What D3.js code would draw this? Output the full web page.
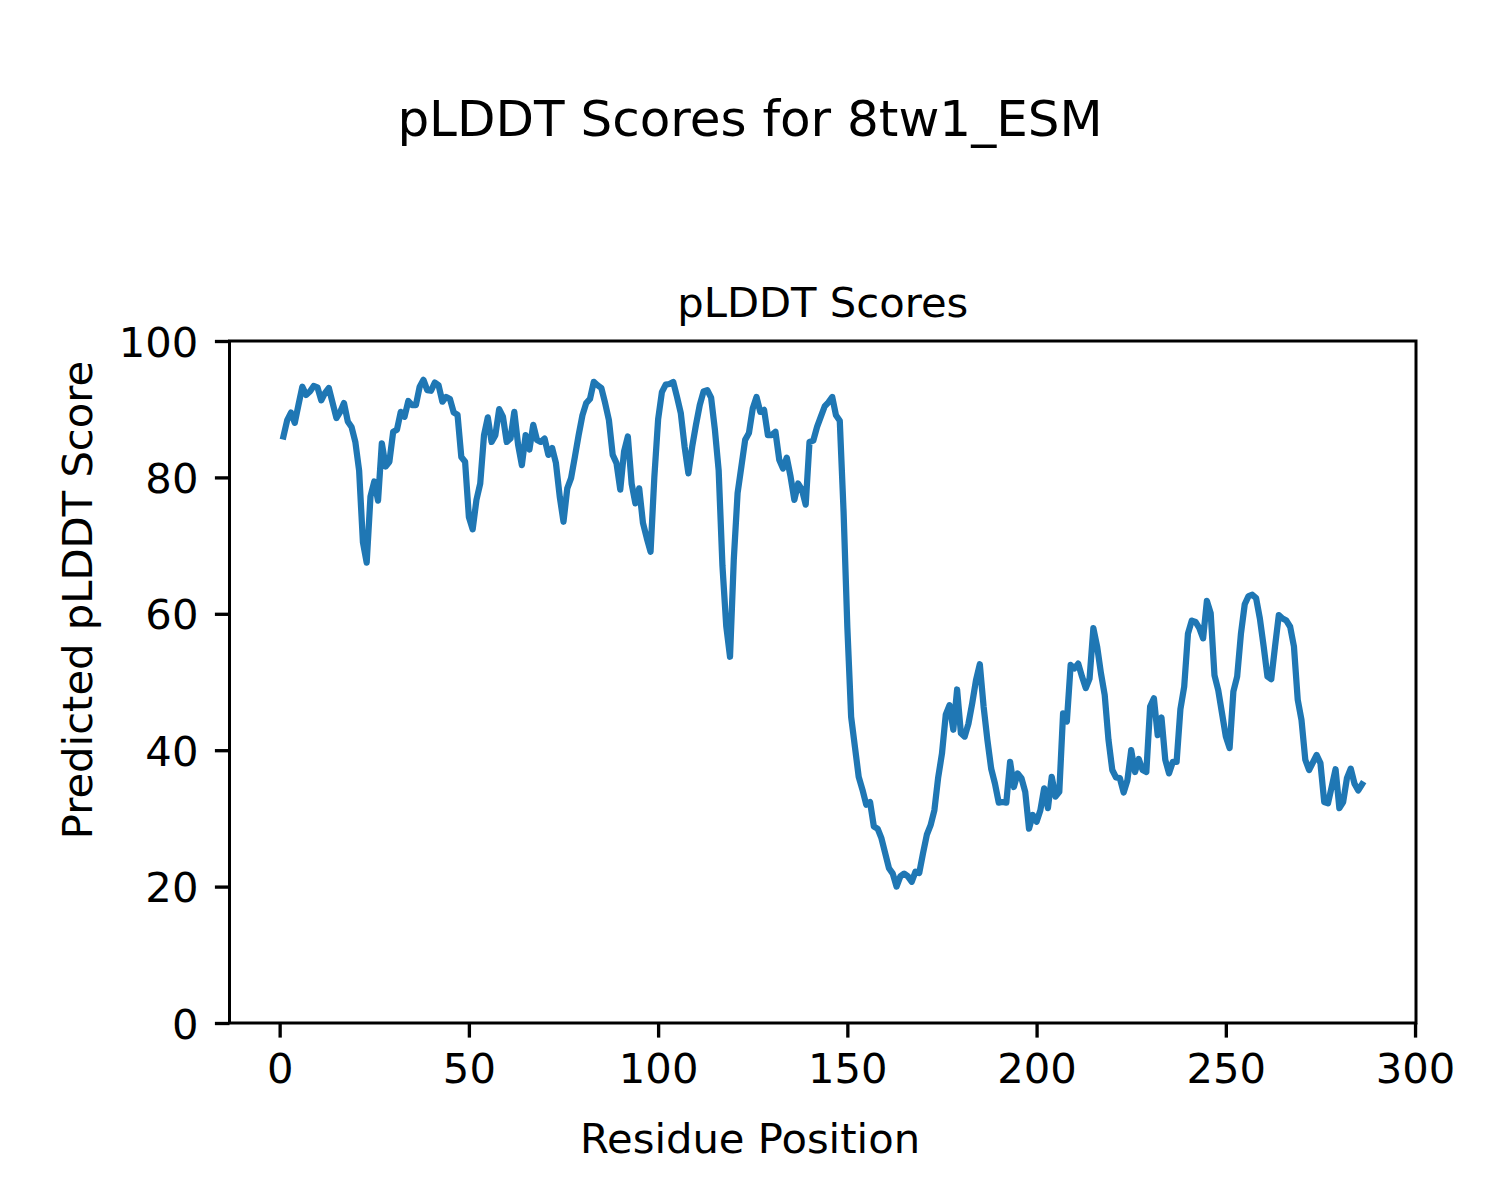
<!DOCTYPE html>
<html>
<head>
<meta charset="utf-8">
<script src="https://cdn.jsdelivr.net/npm/d3@7"></script>
<style>
  html, body { margin: 0; padding: 0; background: #ffffff; }
  svg { display: block; }
  text { font-family: "DejaVu Sans", sans-serif; fill: #000; }
</style>
</head>
<body>
<svg id="chart" width="1500" height="1200"></svg>
<script>
// Residue positions run 1..N; one pLDDT score per residue
const plddtScores = [
  86.0, 88.4, 89.5, 88.0, 90.7, 93.3, 92.1, 92.6, 93.4, 93.2,
  91.3, 92.4, 93.1, 90.9, 88.7, 89.6, 90.9, 88.2, 87.4, 85.2,
  81.0, 70.5, 67.5, 77.2, 79.4, 76.6, 85.0, 81.6, 82.3, 86.7,
  87.0, 89.6, 88.9, 91.2, 90.6, 90.6, 93.3, 94.3, 92.8, 92.7,
  93.9, 93.5, 91.1, 91.8, 91.5, 89.5, 89.2, 83.0, 82.3, 74.2,
  72.4, 76.7, 79.1, 86.2, 88.8, 85.2, 86.2, 90.0, 88.9, 85.2,
  85.7, 89.6, 84.8, 81.8, 86.2, 84.1, 87.7, 85.5, 85.2, 85.7,
  83.3, 84.3, 82.1, 77.2, 73.5, 78.4, 79.9, 83.0, 86.2, 89.1,
  90.9, 91.5, 94.0, 93.5, 93.1, 90.9, 88.4, 83.3, 82.1, 78.2,
  83.8, 86.0, 79.1, 76.2, 78.4, 73.3, 71.1, 69.1, 80.0, 88.5,
  92.5, 93.6, 93.7, 94.0, 91.8, 89.4, 84.5, 80.6, 84.5, 87.7,
  90.6, 92.6, 92.8, 91.7, 87.0, 81.0, 67.0, 58.2, 53.7, 68.0,
  77.7, 81.6, 85.5, 86.5, 90.1, 91.8, 89.6, 89.9, 86.2, 86.2,
  86.7, 82.6, 81.3, 82.9, 80.1, 76.7, 79.1, 78.2, 76.0, 85.2,
  85.4, 87.4, 88.9, 90.4, 91.0, 91.8, 89.1, 88.3, 75.0, 58.0,
  44.9, 40.5, 36.1, 34.2, 32.0, 32.4, 28.8, 28.5, 27.1, 24.9,
  22.7, 21.9, 20.0, 21.5, 21.9, 21.5, 20.7, 22.2, 22.0, 24.9,
  27.6, 29.0, 31.2, 36.0, 39.5, 45.2, 46.6, 43.0, 48.9, 42.5,
  42.0, 43.9, 46.9, 50.3, 52.6, 46.4, 41.5, 37.3, 35.1, 32.3,
  32.4, 32.3, 38.3, 34.6, 36.6, 35.9, 33.9, 28.5, 30.5, 29.5,
  31.2, 34.4, 31.5, 36.1, 33.2, 33.9, 45.4, 44.2, 52.5, 52.0,
  52.7, 50.8, 49.1, 50.5, 57.9, 55.2, 51.3, 48.1, 41.5, 37.1,
  36.0, 35.9, 33.8, 35.6, 40.0, 36.8, 38.7, 37.1, 36.8, 46.4,
  47.6, 42.2, 44.8, 38.6, 36.6, 38.3, 38.3, 46.0, 49.3, 57.1,
  59.0, 58.8, 57.9, 56.4, 61.9, 60.1, 51.0, 48.8, 45.4, 42.0,
  40.3, 48.6, 50.8, 57.1, 61.4, 62.6, 62.8, 62.3, 59.3, 55.2,
  50.8, 50.4, 55.2, 59.8, 59.3, 59.0, 58.1, 55.2, 47.4, 44.4,
  38.6, 37.1, 38.2, 39.3, 38.1, 32.4, 32.2, 34.7, 37.2, 31.5,
  32.4, 35.9, 37.3, 35.1, 34.1, 35.0
];
const residuePositions = plddtScores.map((_, i) => i + 1);
const xTickValues = [0, 50, 100, 150, 200, 250, 300];
const yTickValues = [0, 20, 40, 60, 80, 100];
const figureTitle = "pLDDT Scores for 8tw1_ESM";
const axesTitle = "pLDDT Scores";
const xAxisLabel = "Residue Position";
const yAxisLabel = "Predicted pLDDT Score";

const svg = d3.select("#chart");
const plot = { left: 229.5, right: 1416, top: 341, bottom: 1023 };

const xMin = d3.min(residuePositions), xMax = d3.max(residuePositions);
const xPad = (xMax - xMin) * 0.05;
const x = d3.scaleLinear().domain([xMin - xPad, xMax + xPad]).range([plot.left, plot.right]);
const y = d3.scaleLinear().domain([0, 100]).range([plot.bottom, plot.top]);

const tickLen = 14.6, fs = 41.7;

// line
const line = d3.line().x((d, i) => x(residuePositions[i])).y(d => y(d));
svg.append("path")
  .datum(plddtScores)
  .attr("d", line)
  .attr("fill", "none")
  .attr("stroke", "#1f77b4")
  .attr("stroke-width", 6.25)
  .attr("stroke-linejoin", "round")
  .attr("stroke-linecap", "square");

// axes
const xAxis = d3.axisBottom(x).tickValues(xTickValues).tickSizeInner(tickLen).tickSizeOuter(0).tickPadding(14.6);
const gx = svg.append("g").attr("transform", `translate(0,${plot.bottom})`).call(xAxis);
gx.select(".domain").remove();
gx.selectAll(".tick line").attr("stroke", "#000").attr("stroke-width", 3.33);
gx.selectAll(".tick text").attr("font-family", "DejaVu Sans").attr("font-size", fs)
  .attr("y", 59.5).attr("dy", 0).attr("fill", "#000");

const yAxis = d3.axisLeft(y).tickValues(yTickValues).tickSizeInner(tickLen).tickSizeOuter(0).tickPadding(16.5);
const gy = svg.append("g").attr("transform", `translate(${plot.left},0)`).call(yAxis);
gy.select(".domain").remove();
gy.selectAll(".tick line").attr("stroke", "#000").attr("stroke-width", 3.33);
gy.selectAll(".tick text").attr("font-family", "DejaVu Sans").attr("font-size", fs)
  .attr("dy", "0.36em").attr("fill", "#000");

// spines
svg.append("rect")
  .attr("x", plot.left).attr("y", plot.top)
  .attr("width", plot.right - plot.left).attr("height", plot.bottom - plot.top)
  .attr("fill", "none").attr("stroke", "#000").attr("stroke-width", 3.0);

// titles
svg.append("text").attr("x", 750).attr("y", 135.5).attr("text-anchor", "middle")
  .attr("font-size", 50).text(figureTitle);
svg.append("text").attr("x", (plot.left + plot.right) / 2).attr("y", 317).attr("text-anchor", "middle")
  .attr("font-size", fs).text(axesTitle);
svg.append("text").attr("x", 750).attr("y", 1153).attr("text-anchor", "middle")
  .attr("font-size", fs).text(xAxisLabel);
svg.append("text").attr("transform", "translate(91.5,600) rotate(-90)").attr("text-anchor", "middle")
  .attr("font-size", fs).text(yAxisLabel);
</script>
</body>
</html>
